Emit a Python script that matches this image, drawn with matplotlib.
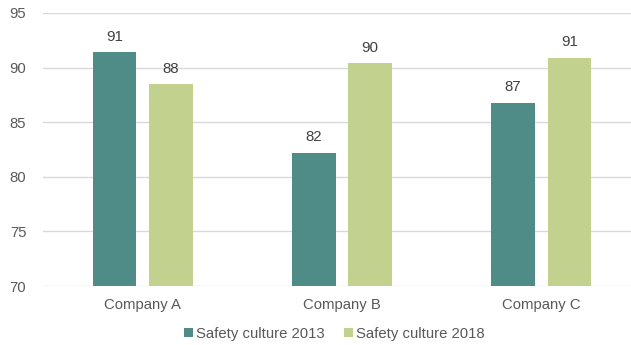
import numpy as np
import matplotlib.pyplot as plt

plt.rcParams['font.family'] = ['Liberation Sans', 'DejaVu Sans']

companies = ['Company A', 'Company B', 'Company C']
series_names = ['Safety culture 2013', 'Safety culture 2018']
culture_2013 = [91.4, 82.2, 86.8]
culture_2018 = [88.5, 90.4, 90.9]
labels_2013 = ['91', '82', '87']
labels_2018 = ['88', '90', '91']
yticks = [70, 75, 80, 85, 90, 95]

c2013 = '#4f8b87'
c2018 = '#c3d18e'
grey = '#595959'

fig = plt.figure(figsize=(6.31, 3.45), dpi=100)
ax = fig.add_axes([43 / 631, 1 - 286 / 345, (641 - 43) / 631, (286 - 13) / 345])

x = np.arange(len(companies))
w = 0.22
off = 0.1416
b1 = ax.bar(x - off, culture_2013, w, bottom=0, color=c2013, label=series_names[0], zorder=3)
b2 = ax.bar(x + off, culture_2018, w, bottom=0, color=c2018, label=series_names[1], zorder=3)

for bars, labs in [(b1, labels_2013), (b2, labels_2018)]:
    for rect, lab in zip(bars, labs):
        ax.annotate(lab, (rect.get_x() + rect.get_width() / 2, rect.get_height()),
                    xytext=(0, 6), textcoords='offset points', ha='center', va='bottom',
                    fontsize=10.8, color='#404040')

ax.set_ylim(70, 95)
ax.set_xlim(-0.5, 2.5)
ax.set_yticks(yticks)
ax.set_xticks(x)
ax.set_xticklabels(companies)
ax.tick_params(axis='both', length=0, labelsize=10.7, labelcolor=grey)
ax.tick_params(axis='y', pad=12)
ax.tick_params(axis='x', pad=9)
ax.grid(axis='y', color='#d9d9d9', linewidth=1, zorder=0)
for s in ax.spines.values():
    s.set_visible(False)

leg = fig.legend(handles=[b1, b2], labels=series_names, loc='center', bbox_to_anchor=(334 / 631, 1 - 334 / 345),
                 ncol=2, frameon=False, fontsize=10.7, handlelength=0.6, handleheight=0.6,
                 handletextpad=0.2, columnspacing=1.3)
for t in leg.get_texts():
    t.set_color(grey)

fig.savefig('out.png', dpi=100)
